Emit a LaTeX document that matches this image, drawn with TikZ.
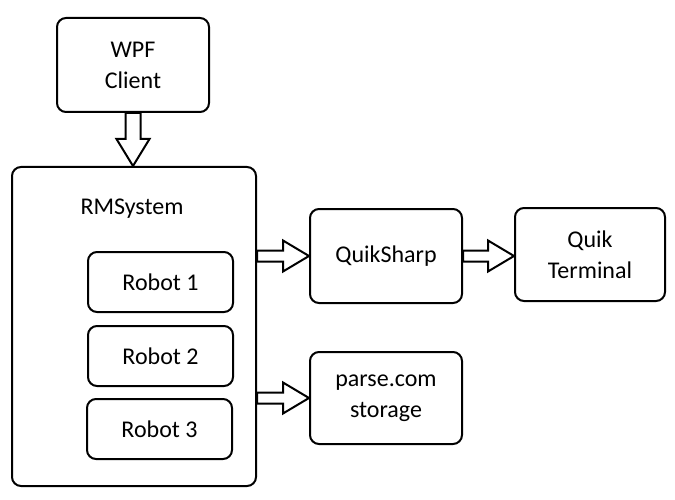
\documentclass[tikz,border=0pt]{standalone}
\usepackage{fontspec}
\setmainfont{Carlito}
\usetikzlibrary{calc}

\newcommand{\fatarrowh}[2]{%
    \draw[fatarrow] let \p1=(#1), \p2=(#2) in
        (\x1,\y1+5.5pt) -- (\x2-26pt,\y1+5.5pt) -- (\x2-26pt,\y1+15.5pt) -- (\x2,\y1)
        -- (\x2-26pt,\y1-15.5pt) -- (\x2-26pt,\y1-5.5pt) -- (\x1,\y1-5.5pt) -- cycle;}
\newcommand{\fatarrowv}[2]{%
    \draw[fatarrow] let \p1=(#1), \p2=(#2) in
        (\x1-7.5pt,\y1) -- (\x1-7.5pt,\y2+27pt) -- (\x1-16.5pt,\y2+27pt) -- (\x1,\y2)
        -- (\x1+16.5pt,\y2+27pt) -- (\x1+7.5pt,\y2+27pt) -- (\x1+7.5pt,\y1) -- cycle;}

\begin{document}
\begin{tikzpicture}[x=1pt, y=-1pt, font=\fontsize{24}{31}\selectfont,
        box/.style={rectangle, rounded corners=9pt, draw=black, line width=2pt,
                    fill=white, align=center, inner sep=0pt},
        fatarrow/.style={draw=black, line width=2pt, fill=white, line join=miter}
    ]
        \useasboundingbox (0,0) rectangle (675,500);
        \node[box, minimum width=152pt, minimum height=94pt] (wpf) at (133,65) {WPF\\Client};
        \node[box, minimum width=244pt, minimum height=319pt] (rms) at (134,326.5) {};
        \node (rmslabel) at (132,209) {RMSystem};
        \node[box, minimum width=145pt, minimum height=60pt] (robot1) at (160.5,282) {Robot 1};
        \node[box, minimum width=145pt, minimum height=60pt] (robot2) at (160.5,356) {Robot 2};
        \node[box, minimum width=145pt, minimum height=60pt] (robot3) at (159.5,429) {Robot 3};
        \node[box, minimum width=152pt, minimum height=94pt] (quik) at (386,256) {QuikSharp};
        \node[box, minimum width=150pt, minimum height=93pt] (term) at (590,254.5) {Quik\\Terminal};
        \node[box, minimum width=152pt, minimum height=92pt] (parse) at (386,398) {parse.com\\storage};

        \fatarrowv{wpf.south}{wpf.south |- rms.north}
        \fatarrowh{rms.east |- quik.west}{quik.west}
        \fatarrowh{quik.east}{quik.east -| term.west}
        \fatarrowh{rms.east |- parse.west}{parse.west}
    \end{tikzpicture}
\end{document}
